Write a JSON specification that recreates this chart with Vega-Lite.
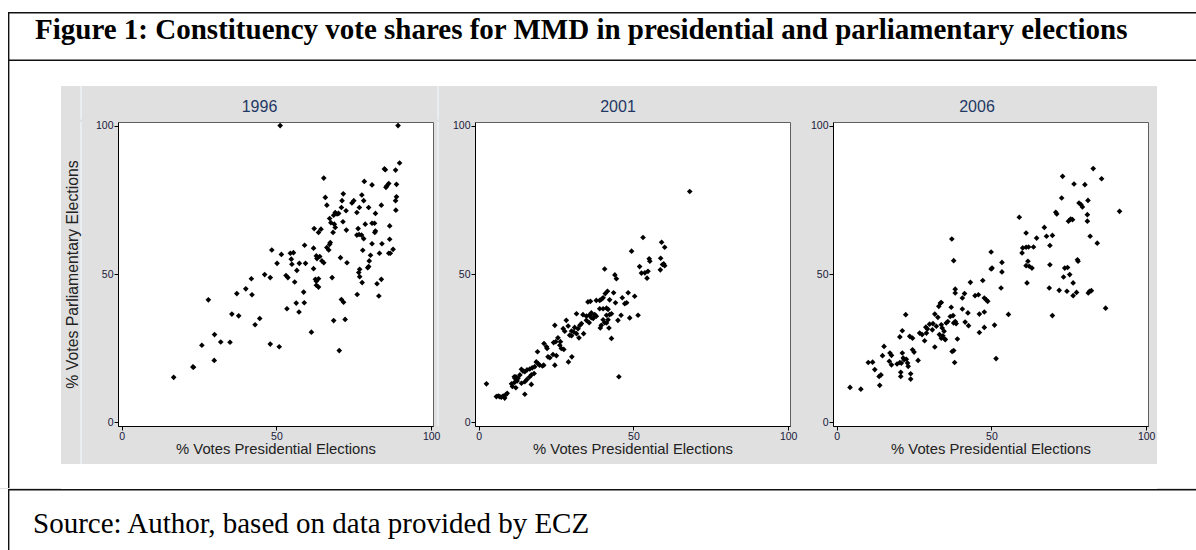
{
  "$schema": "https://vega.github.io/schema/vega-lite/v6.json",
  "background": "#e0e0e0",
  "padding": 0,
  "spacing": 0,
  "config": {
    "view": {"stroke": null},
    "font": "Liberation Sans",
    "axis": {"grid": false, "domainColor": "#000000", "domainWidth": 1, "tickColor": "#000000", "tickSize": 4, "labelFontSize": 10.5, "labelColor": "#1a1a3a", "labelPadding": 1, "labelFlush": false, "labelFont": "Liberation Sans", "titleFont": "Liberation Sans", "titleFontWeight": "normal", "titleColor": "#222222"},
    "axisX": {"titlePadding": 0, "titleFontSize": 14.8},
    "axisY": {"titlePadding": 15, "titleFontSize": 15.8}
  },
  "datasets": {
    "d1996": [
      {"pres":51.2,"parl":100},{"pres":89.3,"parl":100},{"pres":89.8,"parl":87.4},{"pres":84.9,"parl":85.4},{"pres":85.2,"parl":85.1},{"pres":88.5,"parl":85.0},{"pres":65.3,"parl":82.3},{"pres":78.4,"parl":81.2},{"pres":80.9,"parl":80.0},{"pres":88.8,"parl":80.2},{"pres":86.3,"parl":80.5},{"pres":85.7,"parl":79.7},{"pres":85.4,"parl":79.2},{"pres":71.6,"parl":77.0},{"pres":77.6,"parl":76.6},{"pres":65.8,"parl":75.8},{"pres":88.8,"parl":76.0},{"pres":88.5,"parl":74.7},{"pres":88.6,"parl":71.5},{"pres":75.0,"parl":74.7},{"pres":74.4,"parl":73.9},{"pres":71.2,"parl":74.7},{"pres":78.2,"parl":74.7},{"pres":66.3,"parl":73.2},{"pres":79.8,"parl":72.4},{"pres":83.9,"parl":73.2},{"pres":76.8,"parl":72.4},{"pres":76.0,"parl":70.7},{"pres":72.5,"parl":71.3},{"pres":71.0,"parl":72.4},{"pres":69.0,"parl":70.7},{"pres":69.6,"parl":70.2},{"pres":70.1,"parl":70.4},{"pres":68.5,"parl":69.8},{"pres":82.0,"parl":70.4},{"pres":67.2,"parl":68.7},{"pres":67.6,"parl":67.3},{"pres":71.5,"parl":67.6},{"pres":78.7,"parl":66.8},{"pres":80.9,"parl":67.1},{"pres":81.7,"parl":67.1},{"pres":86.6,"parl":66.2},{"pres":68.7,"parl":66.8},{"pres":69.0,"parl":65.7},{"pres":68.3,"parl":64.0},{"pres":62.2,"parl":65.3},{"pres":64.4,"parl":65.1},{"pres":63.6,"parl":64.0},{"pres":72.6,"parl":64.8},{"pres":76.4,"parl":65.3},{"pres":76.7,"parl":63.3},{"pres":76.0,"parl":63.1},{"pres":82.0,"parl":64.5},{"pres":81.8,"parl":64.0},{"pres":77.5,"parl":63.1},{"pres":78.2,"parl":61.9},{"pres":86.6,"parl":61.7},{"pres":67.4,"parl":60.6},{"pres":80.9,"parl":60.2},{"pres":84.1,"parl":60.2},{"pres":67.2,"parl":60.0},{"pres":66.3,"parl":58.9},{"pres":66.9,"parl":58.1},{"pres":62.0,"parl":58.7},{"pres":59.1,"parl":59.7},{"pres":48.5,"parl":58.1},{"pres":77.9,"parl":58.0},{"pres":87.7,"parl":58.3},{"pres":54.5,"parl":57.0},{"pres":55.5,"parl":57.2},{"pres":51.6,"parl":56.6},{"pres":83.3,"parl":57.0},{"pres":86.3,"parl":57.0},{"pres":86.8,"parl":57.0},{"pres":80.4,"parl":56.3},{"pres":62.9,"parl":56.1},{"pres":64.0,"parl":55.9},{"pres":63.1,"parl":55.2},{"pres":70.7,"parl":55.5},{"pres":54.8,"parl":55.0},{"pres":55.0,"parl":53.3},{"pres":64.7,"parl":54.4},{"pres":65.3,"parl":53.8},{"pres":72.8,"parl":53.8},{"pres":50.2,"parl":53.6},{"pres":57.4,"parl":53.6},{"pres":59.4,"parl":53.6},{"pres":80.0,"parl":54.4},{"pres":79.8,"parl":52.5},{"pres":79.5,"parl":52.1},{"pres":62.0,"parl":51.8},{"pres":62.6,"parl":48.2},{"pres":62.9,"parl":47.6},{"pres":63.6,"parl":48.4},{"pres":56.6,"parl":51.2},{"pres":76.9,"parl":51.6},{"pres":76.6,"parl":50.5},{"pres":76.9,"parl":49.1},{"pres":77.7,"parl":47.1},{"pres":46.2,"parl":49.8},{"pres":48.0,"parl":48.8},{"pres":53.1,"parl":49.5},{"pres":53.7,"parl":48.8},{"pres":68.0,"parl":48.8},{"pres":41.9,"parl":48.4},{"pres":83.9,"parl":48.2},{"pres":55.9,"parl":47.3},{"pres":62.9,"parl":46.2},{"pres":63.6,"parl":45.6},{"pres":82.5,"parl":46.7},{"pres":40.1,"parl":45.0},{"pres":58.8,"parl":43.9},{"pres":37.2,"parl":43.4},{"pres":42.1,"parl":43.0},{"pres":76.1,"parl":43.1},{"pres":83.1,"parl":42.6},{"pres":28.0,"parl":41.3},{"pres":71.0,"parl":41.4},{"pres":71.7,"parl":40.5},{"pres":56.4,"parl":40.2},{"pres":59.0,"parl":40.3},{"pres":57.3,"parl":37.2},{"pres":53.4,"parl":38.3},{"pres":35.6,"parl":36.5},{"pres":37.8,"parl":35.9},{"pres":44.6,"parl":35.0},{"pres":68.5,"parl":34.3},{"pres":72.2,"parl":34.7},{"pres":43.1,"parl":32.9},{"pres":61.3,"parl":30.4},{"pres":30.0,"parl":29.6},{"pres":32.0,"parl":27.1},{"pres":35.0,"parl":27.0},{"pres":25.9,"parl":26.0},{"pres":48.0,"parl":26.4},{"pres":50.9,"parl":25.5},{"pres":70.3,"parl":24.2},{"pres":29.9,"parl":20.9},{"pres":23.0,"parl":18.7},{"pres":23.2,"parl":18.6},{"pres":16.8,"parl":15.2}
    ],
    "d2001": [
      {"pres":68.2,"parl":77.8},{"pres":53.1,"parl":62.3},{"pres":59.1,"parl":60.7},{"pres":60.1,"parl":59.0},{"pres":49.4,"parl":57.7},{"pres":55.1,"parl":55.1},{"pres":55.3,"parl":54.3},{"pres":58.8,"parl":55.3},{"pres":59.8,"parl":53.4},{"pres":60.1,"parl":52.8},{"pres":59.4,"parl":53.2},{"pres":58.7,"parl":51.4},{"pres":52.0,"parl":52.5},{"pres":40.7,"parl":51.7},{"pres":52.6,"parl":50.3},{"pres":53.7,"parl":50.4},{"pres":54.7,"parl":50.9},{"pres":54.4,"parl":48.6},{"pres":44.0,"parl":49.7},{"pres":44.5,"parl":48.4},{"pres":48.3,"parl":43.7},{"pres":50.4,"parl":42.5},{"pres":46.4,"parl":42.0},{"pres":47.2,"parl":40.0},{"pres":47.8,"parl":40.3},{"pres":43.6,"parl":43.7},{"pres":44.2,"parl":40.3},{"pres":41.6,"parl":44.2},{"pres":40.9,"parl":43.4},{"pres":40.2,"parl":42.0},{"pres":38.0,"parl":41.1},{"pres":39.1,"parl":41.1},{"pres":39.7,"parl":41.5},{"pres":42.3,"parl":41.3},{"pres":35.3,"parl":40.6},{"pres":36.1,"parl":40.8},{"pres":51.5,"parl":36.1},{"pres":48.8,"parl":35.2},{"pres":46.0,"parl":36.1},{"pres":45.0,"parl":34.4},{"pres":31.6,"parl":36.6},{"pres":39.1,"parl":38.3},{"pres":40.2,"parl":38.3},{"pres":41.3,"parl":38.5},{"pres":41.8,"parl":38.1},{"pres":36.4,"parl":36.9},{"pres":37.5,"parl":36.3},{"pres":38.0,"parl":35.8},{"pres":36.4,"parl":35.3},{"pres":33.7,"parl":36.3},{"pres":34.8,"parl":35.8},{"pres":35.7,"parl":36.1},{"pres":41.3,"parl":36.1},{"pres":42.3,"parl":36.3},{"pres":42.9,"parl":36.6},{"pres":40.2,"parl":34.6},{"pres":40.7,"parl":33.6},{"pres":39.6,"parl":32.7},{"pres":41.3,"parl":33.5},{"pres":41.8,"parl":34.6},{"pres":39.3,"parl":31.8},{"pres":42.1,"parl":31.8},{"pres":42.9,"parl":28.3},{"pres":45.3,"parl":15.4},{"pres":28.3,"parl":34.4},{"pres":24.6,"parl":32.7},{"pres":33.2,"parl":33.3},{"pres":32.7,"parl":32.7},{"pres":32.1,"parl":31.6},{"pres":31.0,"parl":32.0},{"pres":30.0,"parl":30.8},{"pres":30.7,"parl":30.5},{"pres":31.6,"parl":29.9},{"pres":29.4,"parl":29.4},{"pres":30.0,"parl":29.2},{"pres":27.3,"parl":31.6},{"pres":27.8,"parl":30.7},{"pres":28.9,"parl":32.5},{"pres":32.4,"parl":28.5},{"pres":33.9,"parl":29.9},{"pres":25.6,"parl":28.5},{"pres":24.9,"parl":27.2},{"pres":24.2,"parl":26.9},{"pres":21.1,"parl":26.6},{"pres":21.9,"parl":25.5},{"pres":22.1,"parl":24.9},{"pres":22.4,"parl":22.1},{"pres":23.0,"parl":21.8},{"pres":26.2,"parl":26.0},{"pres":26.7,"parl":24.9},{"pres":27.5,"parl":24.6},{"pres":24.6,"parl":19.3},{"pres":30.1,"parl":22.1},{"pres":29.0,"parl":20.4},{"pres":19.0,"parl":23.8},{"pres":18.6,"parl":20.4},{"pres":19.2,"parl":19.8},{"pres":19.7,"parl":19.3},{"pres":20.6,"parl":19.0},{"pres":21.0,"parl":19.3},{"pres":18.1,"parl":18.8},{"pres":17.3,"parl":18.4},{"pres":16.5,"parl":18.0},{"pres":15.6,"parl":17.7},{"pres":14.9,"parl":17.1},{"pres":14.3,"parl":17.3},{"pres":13.8,"parl":17.9},{"pres":13.3,"parl":16.0},{"pres":12.7,"parl":14.9},{"pres":12.0,"parl":15.4},{"pres":11.5,"parl":15.4},{"pres":11.7,"parl":14.9},{"pres":10.6,"parl":13.0},{"pres":11.6,"parl":13.5},{"pres":12.4,"parl":14.0},{"pres":10.9,"parl":12.1},{"pres":12.0,"parl":11.7},{"pres":13.8,"parl":13.2},{"pres":14.9,"parl":13.7},{"pres":15.6,"parl":14.5},{"pres":16.5,"parl":15.4},{"pres":17.9,"parl":16.5},{"pres":17.0,"parl":16.0},{"pres":14.9,"parl":9.5},{"pres":9.2,"parl":9.8},{"pres":8.7,"parl":9.3},{"pres":6.3,"parl":8.9},{"pres":6.8,"parl":8.7},{"pres":7.3,"parl":8.5},{"pres":7.9,"parl":8.9},{"pres":8.4,"parl":8.2},{"pres":5.7,"parl":8.7},{"pres":2.5,"parl":13.0},{"pres":17.0,"parl":12.8},{"pres":24.0,"parl":22.9},{"pres":25.1,"parl":22.5},{"pres":26.4,"parl":27.2},{"pres":34.8,"parl":34.4},{"pres":35.7,"parl":33.6},{"pres":37.0,"parl":35.0},{"pres":37.5,"parl":36.1}
    ],
    "d2006": [
      {"pres":4.3,"parl":11.8},{"pres":7.8,"parl":11.2},{"pres":10.2,"parl":20.2},{"pres":11.6,"parl":20.3},{"pres":12.3,"parl":17.8},{"pres":13.7,"parl":15.5},{"pres":13.9,"parl":12.5},{"pres":14.3,"parl":16.0},{"pres":14.8,"parl":22.5},{"pres":15.3,"parl":25.6},{"pres":17.2,"parl":23.4},{"pres":17.7,"parl":22.6},{"pres":17.0,"parl":20.6},{"pres":17.7,"parl":19.4},{"pres":19.5,"parl":19.7},{"pres":20.4,"parl":20.2},{"pres":20.9,"parl":20.0},{"pres":20.4,"parl":28.8},{"pres":20.7,"parl":16.9},{"pres":20.7,"parl":15.5},{"pres":21.2,"parl":23.4},{"pres":21.5,"parl":21.7},{"pres":21.8,"parl":21.1},{"pres":22.5,"parl":21.3},{"pres":22.9,"parl":20.0},{"pres":23.1,"parl":18.9},{"pres":21.2,"parl":30.9},{"pres":22.3,"parl":36.3},{"pres":23.6,"parl":29.0},{"pres":24.5,"parl":28.4},{"pres":23.9,"parl":16.4},{"pres":23.9,"parl":14.6},{"pres":24.5,"parl":24.5},{"pres":25.0,"parl":23.7},{"pres":26.3,"parl":20.9},{"pres":26.8,"parl":30.1},{"pres":27.6,"parl":29.6},{"pres":28.4,"parl":27.5},{"pres":29.0,"parl":30.1},{"pres":29.3,"parl":31.5},{"pres":28.8,"parl":32.1},{"pres":30.0,"parl":33.1},{"pres":30.9,"parl":31.2},{"pres":31.7,"parl":36.5},{"pres":32.7,"parl":35.4},{"pres":31.7,"parl":25.4},{"pres":31.1,"parl":33.3},{"pres":32.2,"parl":32.4},{"pres":33.0,"parl":39.1},{"pres":33.5,"parl":40.2},{"pres":33.8,"parl":40.4},{"pres":33.8,"parl":32.9},{"pres":34.1,"parl":31.8},{"pres":34.3,"parl":29.2},{"pres":34.9,"parl":28.1},{"pres":33.2,"parl":29.6},{"pres":33.8,"parl":28.4},{"pres":34.7,"parl":30.7},{"pres":35.4,"parl":33.5},{"pres":35.9,"parl":34.0},{"pres":35.1,"parl":27.9},{"pres":37.0,"parl":38.8},{"pres":36.7,"parl":35.7},{"pres":37.6,"parl":36.0},{"pres":37.2,"parl":61.8},{"pres":37.8,"parl":54.5},{"pres":38.3,"parl":44.9},{"pres":38.3,"parl":43.6},{"pres":37.8,"parl":33.5},{"pres":38.3,"parl":34.0},{"pres":38.6,"parl":33.3},{"pres":37.3,"parl":23.9},{"pres":37.8,"parl":24.2},{"pres":38.1,"parl":20.2},{"pres":39.0,"parl":28.1},{"pres":40.6,"parl":41.9},{"pres":41.3,"parl":43.4},{"pres":40.6,"parl":38.2},{"pres":42.4,"parl":36.9},{"pres":41.5,"parl":33.8},{"pres":42.6,"parl":32.6},{"pres":43.2,"parl":47.2},{"pres":44.7,"parl":42.7},{"pres":45.8,"parl":43.0},{"pres":46.1,"parl":36.5},{"pres":47.7,"parl":37.2},{"pres":46.1,"parl":30.3},{"pres":47.7,"parl":32.0},{"pres":47.2,"parl":47.8},{"pres":47.7,"parl":41.9},{"pres":48.3,"parl":41.3},{"pres":48.8,"parl":40.8},{"pres":49.9,"parl":57.4},{"pres":49.9,"parl":51.7},{"pres":50.2,"parl":52.0},{"pres":51.0,"parl":32.8},{"pres":51.5,"parl":21.5},{"pres":53.4,"parl":53.9},{"pres":53.4,"parl":50.7},{"pres":53.1,"parl":45.3},{"pres":55.5,"parl":36.4},{"pres":59.0,"parl":69.1},{"pres":59.9,"parl":57.1},{"pres":60.1,"parl":58.8},{"pres":61.2,"parl":59.0},{"pres":62.0,"parl":59.1},{"pres":61.2,"parl":63.8},{"pres":61.8,"parl":54.3},{"pres":62.2,"parl":52.6},{"pres":61.2,"parl":52.8},{"pres":63.1,"parl":52.0},{"pres":61.5,"parl":47.0},{"pres":63.6,"parl":59.1},{"pres":64.6,"parl":62.1},{"pres":67.1,"parl":65.7},{"pres":67.8,"parl":62.7},{"pres":68.9,"parl":59.6},{"pres":69.7,"parl":63.0},{"pres":68.9,"parl":53.1},{"pres":68.7,"parl":45.3},{"pres":69.7,"parl":36.0},{"pres":70.8,"parl":70.8},{"pres":71.1,"parl":70.2},{"pres":71.9,"parl":44.5},{"pres":73.0,"parl":82.9},{"pres":72.7,"parl":75.6},{"pres":73.3,"parl":49.0},{"pres":73.7,"parl":52.0},{"pres":74.6,"parl":52.2},{"pres":74.4,"parl":44.2},{"pres":74.9,"parl":67.8},{"pres":75.6,"parl":68.5},{"pres":76.2,"parl":68.3},{"pres":75.3,"parl":49.8},{"pres":76.7,"parl":80.3},{"pres":76.4,"parl":47.0},{"pres":76.4,"parl":42.7},{"pres":77.5,"parl":43.8},{"pres":78.0,"parl":54.3},{"pres":77.8,"parl":54.8},{"pres":78.3,"parl":73.9},{"pres":78.9,"parl":73.4},{"pres":79.4,"parl":72.6},{"pres":80.2,"parl":80.1},{"pres":81.2,"parl":74.8},{"pres":81.0,"parl":70.0},{"pres":81.0,"parl":67.8},{"pres":81.3,"parl":43.6},{"pres":81.7,"parl":44.2},{"pres":82.3,"parl":44.4},{"pres":81.9,"parl":62.7},{"pres":82.9,"parl":85.5},{"pres":84.2,"parl":60.4},{"pres":85.6,"parl":82.1},{"pres":86.9,"parl":38.5},{"pres":91.4,"parl":71.1}
    ]
  },
  "vconcat": [
    {
      "spacing": 0,
      "vconcat": [
        {"width": 1196, "height": 12, "data": {"values": []}, "mark": "point", "view": {"fill": "white"}},
        {
          "spacing": 0, "bounds": "flush",
          "hconcat": [
            {"width": 8, "height": 49, "data": {"values": []}, "mark": "point", "view": {"fill": "white"}},
            {
              "width": 1188, "height": 49,
              "data": {"values": [{}]},
              "view": {"fill": "white"},
              "layer": [
                {"mark": {"type": "rule", "color": "#111111", "strokeWidth": 2.8, "clip": true}, "encoding": {"y": {"datum": 1, "type": "quantitative", "scale": {"domain": [0, 1]}, "axis": null}}},
                {"mark": {"type": "rule", "color": "#111111", "strokeWidth": 2.8, "clip": true}, "encoding": {"y": {"datum": 0, "type": "quantitative", "scale": {"domain": [0, 1]}, "axis": null}}},
                {"mark": {"type": "rule", "color": "#111111", "strokeWidth": 2.8, "clip": true}, "encoding": {"x": {"datum": 0, "type": "quantitative", "scale": {"domain": [0, 1]}, "axis": null}}},
                {"mark": {"type": "text", "align": "left", "baseline": "alphabetic", "font": "Liberation Serif", "fontWeight": "bold", "fontSize": 29, "dx": 27, "dy": 2.5, "color": "#000000"},
                 "encoding": {"x": {"datum": 0, "type": "quantitative", "scale": {"domain": [0, 1]}, "axis": null}, "y": {"datum": 0.5, "type": "quantitative", "scale": {"domain": [0, 1]}, "axis": null}, "text": {"value": "Figure 1: Constituency vote shares for MMD in presidential and parliamentary elections"}}}
              ]
            }
          ]
        }
      ]
    },
    {
      "spacing": 0,
      "hconcat": [
        {"width": 8, "height": 427, "data": {"values": []}, "mark": "point", "view": {"fill": "white"}},
        {"width": 53, "height": 427, "data": {"values": [{}]}, "view": {"fill": "white"},
         "mark": {"type": "rule", "color": "#111111", "strokeWidth": 2.8, "clip": true},
         "encoding": {"x": {"datum": 0, "type": "quantitative", "scale": {"domain": [0, 1]}, "axis": null}}},
        {
          "spacing": 0,
          "vconcat": [
            {"width": 1096, "height": 25, "data": {"values": []}, "mark": "point", "view": {"fill": "white"}},
            {
              "spacing": 0,
              "vconcat": [
                {
                  "spacing": 0, "bounds": "flush",
                  "hconcat": [
                    {"width": 19, "height": 33.5, "data": {"values": []}, "mark": "point"},
                    {"width": 2, "height": 33.5, "data": {"values": []}, "mark": "point", "view": {"fill": "#eaeef0"}},
                    {"width": 355, "height": 33.5, "data": {"values": [{"year": "1996"}]},
                     "mark": {"type": "text", "align": "center", "baseline": "alphabetic", "fontSize": 16, "color": "#1f3864", "dy": 9},
                     "encoding": {"x": {"datum": 0.5, "type": "quantitative", "scale": {"domain": [0, 1]}, "axis": null}, "y": {"datum": 0.5, "type": "quantitative", "scale": {"domain": [0, 1]}, "axis": null}, "text": {"field": "year"}}},
                    {"width": 2, "height": 33.5, "data": {"values": []}, "mark": "point", "view": {"fill": "#eaeef0"}},
                    {"width": 358, "height": 33.5, "data": {"values": [{"year": "2001"}]},
                     "mark": {"type": "text", "align": "center", "baseline": "alphabetic", "fontSize": 16, "color": "#1f3864", "dy": 9},
                     "encoding": {"x": {"datum": 0.5, "type": "quantitative", "scale": {"domain": [0, 1]}, "axis": null}, "y": {"datum": 0.5, "type": "quantitative", "scale": {"domain": [0, 1]}, "axis": null}, "text": {"field": "year"}}},
                    {"width": 360, "height": 33.5, "data": {"values": [{"year": "2006"}]},
                     "mark": {"type": "text", "align": "center", "baseline": "alphabetic", "fontSize": 16, "color": "#1f3864", "dy": 9},
                     "encoding": {"x": {"datum": 0.5, "type": "quantitative", "scale": {"domain": [0, 1]}, "axis": null}, "y": {"datum": 0.5, "type": "quantitative", "scale": {"domain": [0, 1]}, "axis": null}, "text": {"field": "year"}}}
                  ]
                },
                {
                  "spacing": 0, "bounds": "flush",
                  "hconcat": [
                    {"width": 19, "height": 342, "data": {"values": []}, "mark": "point"},
                    {"width": 2, "height": 342, "data": {"values": []}, "mark": "point", "view": {"fill": "#eaeef0"}},
                    {"width": 36, "height": 304, "data": {"values": []}, "mark": "point"},
                    {
                      "width": 315, "height": 304,
                      "data": {"name": "d1996"},
                      "view": {"fill": "white", "stroke": "#606060", "strokeWidth": 1},
                      "mark": {"type": "point", "shape": "diamond", "filled": true, "color": "#000000", "size": 32, "opacity": 1},
                      "encoding": {
                        "x": {"field": "pres", "type": "quantitative", "scale": {"domain": [-1.2, 100.6], "nice": false, "zero": false}, "axis": {"values": [0, 50, 100], "title": "% Votes Presidential Elections"}},
                        "y": {"field": "parl", "type": "quantitative", "scale": {"domain": [-1.2, 101.2], "nice": false, "zero": false}, "axis": {"values": [0, 50, 100], "title": "% Votes Parliamentary Elections"}}
                      }
                    },
                    {"width": 4, "height": 304, "data": {"values": []}, "mark": "point"},
                    {"width": 2, "height": 304, "data": {"values": []}, "mark": "point", "view": {"fill": "#eaeef0"}},
                    {"width": 36, "height": 304, "data": {"values": []}, "mark": "point"},
                    {
                      "width": 315, "height": 304,
                      "data": {"name": "d2001"},
                      "view": {"fill": "white", "stroke": "#606060", "strokeWidth": 1},
                      "mark": {"type": "point", "shape": "diamond", "filled": true, "color": "#000000", "size": 32, "opacity": 1},
                      "encoding": {
                        "x": {"field": "pres", "type": "quantitative", "scale": {"domain": [-1.2, 100.6], "nice": false, "zero": false}, "axis": {"values": [0, 50, 100], "title": "% Votes Presidential Elections"}},
                        "y": {"field": "parl", "type": "quantitative", "scale": {"domain": [-1.2, 101.2], "nice": false, "zero": false}, "axis": {"values": [0, 50, 100], "title": null}}
                      }
                    },
                    {"width": 7, "height": 304, "data": {"values": []}, "mark": "point"},
                    {"width": 36, "height": 304, "data": {"values": []}, "mark": "point"},
                    {
                      "width": 315, "height": 304,
                      "data": {"name": "d2006"},
                      "view": {"fill": "white", "stroke": "#606060", "strokeWidth": 1},
                      "mark": {"type": "point", "shape": "diamond", "filled": true, "color": "#000000", "size": 32, "opacity": 1},
                      "encoding": {
                        "x": {"field": "pres", "type": "quantitative", "scale": {"domain": [-1.2, 100.6], "nice": false, "zero": false}, "axis": {"values": [0, 50, 100], "title": "% Votes Presidential Elections"}},
                        "y": {"field": "parl", "type": "quantitative", "scale": {"domain": [-1.2, 101.2], "nice": false, "zero": false}, "axis": {"values": [0, 50, 100], "title": null}}
                      }
                    },
                    {"width": 9, "height": 342, "data": {"values": []}, "mark": "point"}
                  ]
                }
              ]
            },
            {"width": 1096, "height": 25, "data": {"values": []}, "mark": "point", "view": {"fill": "white"}}
          ]
        },
        {"width": 39, "height": 427, "data": {"values": []}, "mark": "point", "view": {"fill": "white"}}
      ]
    },
    {
      "spacing": 0, "bounds": "flush",
      "hconcat": [
        {"width": 8, "height": 62, "data": {"values": []}, "mark": "point", "view": {"fill": "white"}},
        {
          "width": 1188, "height": 62,
          "data": {"values": [{}]},
          "view": {"fill": "white"},
          "layer": [
            {"mark": {"type": "rule", "color": "#111111", "strokeWidth": 2.8, "clip": true}, "encoding": {"y": {"datum": 1, "type": "quantitative", "scale": {"domain": [0, 1]}, "axis": null}}},
            {"mark": {"type": "rule", "color": "#111111", "strokeWidth": 2.8, "clip": true}, "encoding": {"x": {"datum": 0, "type": "quantitative", "scale": {"domain": [0, 1]}, "axis": null}}},
            {"mark": {"type": "text", "align": "left", "baseline": "alphabetic", "font": "Liberation Serif", "fontSize": 29, "dx": 25, "dy": 12.5, "color": "#000000"},
             "encoding": {"x": {"datum": 0, "type": "quantitative", "scale": {"domain": [0, 1]}, "axis": null}, "y": {"datum": 0.5, "type": "quantitative", "scale": {"domain": [0, 1]}, "axis": null}, "text": {"value": "Source: Author, based on data provided by ECZ"}}}
          ]
        }
      ]
    }
  ]
}
